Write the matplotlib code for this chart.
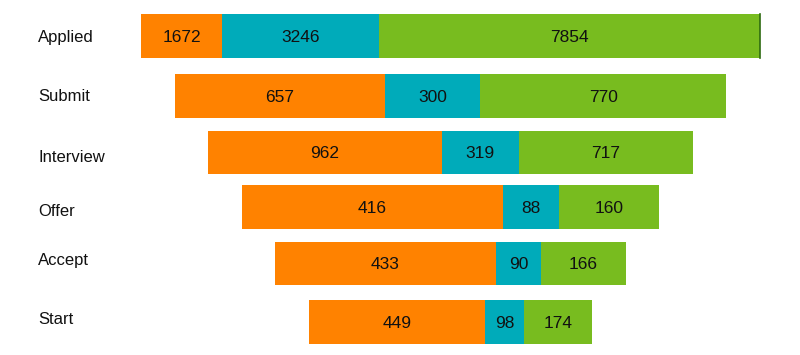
import matplotlib
matplotlib.use("Agg")
import matplotlib.pyplot as plt

stages = ["Applied", "Submit", "Interview", "Offer", "Accept", "Start"]
seg_a = [1672, 657, 962, 416, 433, 449]
seg_b = [3246, 300, 319, 88, 90, 98]
seg_c = [7854, 770, 717, 160, 166, 174]

colors = ["#FF8200", "#00ABBA", "#78BC1F"]
plt.rcParams['font.family'] = ['Liberation Sans', 'DejaVu Sans']

fig = plt.figure(figsize=(8, 3.55), dpi=100)
ax = fig.add_axes([0, 0, 1, 1])

step = 0.1085
bar_h = 0.76
row_dy = [0, 0.049, 0.036, -0.01, -0.023, 0]
label_y = [0.02, 1.05, 2.13, 3.06, 3.93, 4.965]

for i, name in enumerate(stages):
    vals = [seg_a[i], seg_b[i], seg_c[i]]
    total = sum(vals)
    width = 1 - step * i
    y = i + row_dy[i]
    left = -width / 2
    for v, c in zip(vals, colors):
        w = width * v / total
        ax.barh(y, w, left=left, height=bar_h, color=c, edgecolor='none')
        ax.text(left + w / 2, y + 0.02, str(v), ha='center', va='center',
                fontsize=12.5, color='#111111')
        left += w
    if i == 0:
        ax.plot([left, left], [y - bar_h / 2, y + bar_h / 2], color='#2E6B10', lw=1.2)
    ax.text(-0.6664, label_y[i], name, ha='left', va='center',
            fontsize=12, color='#111111')

ax.set_xlim(-0.7278, 0.5646)
ax.set_ylim(5.577, -0.629)
ax.axis('off')
fig.savefig("out.png", dpi=100, facecolor='white')
